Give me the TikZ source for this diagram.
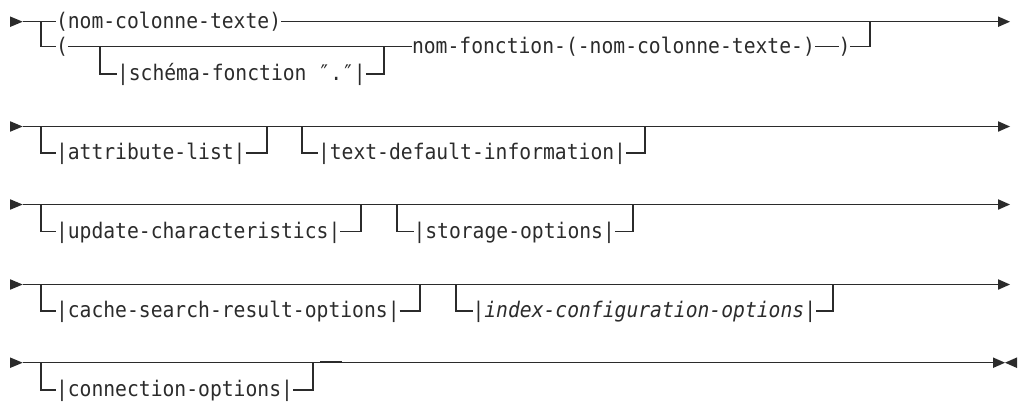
\documentclass[tikz,border=0pt]{standalone}
\usepackage{fontspec}
\newfontfamily\rrmono[FakeStretch=0.9155]{DejaVu Sans Mono}
\usetikzlibrary{calc}
\definecolor{ink}{HTML}{2B2B2B}
\tikzset{
  rail/.style={draw=ink, line width=1.1pt},
  thickrail/.style={draw=ink, line width=1.8pt},
  lbl/.style={anchor=base west, inner sep=0pt, outer sep=0pt, text=ink,
              font=\rrmono\fontsize{21.5}{26}\selectfont},
  tip/.style={fill=ink, draw=none}
}
\begin{document}
\begin{tikzpicture}[x=1pt, y=-1pt]
\useasboundingbox (0,0) rectangle (1018,405);

% ---------------- Row 1 ----------------
\coordinate (s1) at (22.7,21.7);
\coordinate (j1) at (41,21.7);
\coordinate (b1) at (41,46.7);
\coordinate (c1) at (100,46.7);
\coordinate (c2) at (100,74);
\coordinate (c3) at (384,74);
\coordinate (c4) at (384,46.7);
\coordinate (k1) at (870,46.7);
\coordinate (k2) at (870,21.7);
\coordinate (e1) at (998,21.7);

\node[lbl] (t1) at (56,28.2) {(nom-colonne-texte)};
\node[lbl] (p1) at (56,53.2) {(};
\node[lbl] (sf) at (117,80.5) {|schéma-fonction ″.″|};
\node[lbl] (nf) at (412,53.2) {nom-fonction-(-nom-colonne-texte-)};
\node[lbl] (cp) at (838.5,53.2) {)};

\fill[tip] (10,16.4) -- (s1) -- (10,27) -- cycle;
\draw[rail] (s1) -- (j1) -- (t1.west |- s1);
\draw[rail] (t1.east |- s1) -- (e1);
\fill[tip] (998,16.4) -- (1010,21.7) -- (998,27) -- cycle;
\draw[rail] (j1) -- (b1) -- (p1.west |- b1);
\draw[rail] (p1.east |- b1) -- (nf.west |- b1);
\draw[rail] (c1) -- (c2) -- (sf.west |- c2);
\draw[rail] (sf.east |- c2) -- (c3) -- (c4);
\draw[rail] (nf.east |- b1) -- (cp.west |- b1);
\draw[rail] (cp.east |- b1) -- (k1) -- (k2);

% ---------------- Row 2 ----------------
\coordinate (s2) at (22.7,126.5);
\coordinate (e2) at (998,126.5);
\coordinate (a2) at (41,126.5);
\coordinate (a2b) at (41,153);
\coordinate (a2c) at (267,153);
\coordinate (a2d) at (267,126.5);
\coordinate (d2) at (302,126.5);
\coordinate (d2b) at (302,153);
\coordinate (d2c) at (645,153);
\coordinate (d2d) at (645,126.5);

\node[lbl] (al) at (56,159.5) {|attribute-list|};
\node[lbl] (td) at (318,159.5) {|text-default-information|};

\fill[tip] (10,121.2) -- (s2) -- (10,131.8) -- cycle;
\draw[rail] (s2) -- (e2);
\fill[tip] (998,121.2) -- (1010,126.5) -- (998,131.8) -- cycle;
\draw[rail] (a2) -- (a2b) -- (al.west |- a2b);
\draw[rail] (al.east |- a2b) -- (a2c) -- (a2d);
\draw[rail] (d2) -- (d2b) -- (td.west |- d2b);
\draw[rail] (td.east |- d2b) -- (d2c) -- (d2d);

% ---------------- Row 3 ----------------
\coordinate (s3) at (22.7,204.5);
\coordinate (e3) at (998,204.5);
\coordinate (a3) at (41,204.5);
\coordinate (a3b) at (41,231.5);
\coordinate (a3c) at (361,231.5);
\coordinate (a3d) at (361,204.5);
\coordinate (d3) at (397,204.5);
\coordinate (d3b) at (397,231.5);
\coordinate (d3c) at (633,231.5);
\coordinate (d3d) at (633,204.5);

\node[lbl] (uc) at (56,238) {|update-characteristics|};
\node[lbl] (so) at (413.5,238) {|storage-options|};

\fill[tip] (10,199.2) -- (s3) -- (10,209.8) -- cycle;
\draw[rail] (s3) -- (e3);
\fill[tip] (998,199.2) -- (1010,204.5) -- (998,209.8) -- cycle;
\draw[rail] (a3) -- (a3b) -- (uc.west |- a3b);
\draw[rail] (uc.east |- a3b) -- (a3c) -- (a3d);
\draw[rail] (d3) -- (d3b) -- (so.west |- d3b);
\draw[rail] (so.east |- d3b) -- (d3c) -- (d3d);

% ---------------- Row 4 ----------------
\coordinate (s4) at (22.7,284.5);
\coordinate (e4) at (998,284.5);
\coordinate (a4) at (41,284.5);
\coordinate (a4b) at (41,311);
\coordinate (a4c) at (420,311);
\coordinate (a4d) at (420,284.5);
\coordinate (d4) at (456,284.5);
\coordinate (d4b) at (456,311);
\coordinate (d4c) at (833,311);
\coordinate (d4d) at (833,284.5);

\node[lbl] (cs) at (56,317.5) {|cache-search-result-options|};
\node[lbl] (ic) at (472.5,317.5) {|{\itshape index-configuration-options}|};

\fill[tip] (10,279.2) -- (s4) -- (10,289.8) -- cycle;
\draw[rail] (s4) -- (e4);
\fill[tip] (998,279.2) -- (1010,284.5) -- (998,289.8) -- cycle;
\draw[rail] (a4) -- (a4b) -- (cs.west |- a4b);
\draw[rail] (cs.east |- a4b) -- (a4c) -- (a4d);
\draw[rail] (d4) -- (d4b) -- (ic.west |- d4b);
\draw[rail] (ic.east |- d4b) -- (d4c) -- (d4d);

% ---------------- Row 5 ----------------
\coordinate (s5) at (22.7,362.7);
\coordinate (e5) at (993,362.7);
\coordinate (m5) at (1005,362.7);
\coordinate (a5) at (41,362.7);
\coordinate (a5b) at (41,390);
\coordinate (a5c) at (313,390);
\coordinate (a5d) at (313,362.7);
\coordinate (q1) at (320,362.2);
\coordinate (q2) at (342,362.2);

\node[lbl] (co) at (56,396.5) {|connection-options|};

\fill[tip] (10,357.4) -- (s5) -- (10,368) -- cycle;
\draw[rail] (s5) -- (e5);
\fill[tip] (993,357.4) -- (m5) -- (993,368) -- cycle;
\fill[tip] (1017,357.4) -- (m5) -- (1017,368) -- cycle;
\draw[rail] (a5) -- (a5b) -- (co.west |- a5b);
\draw[rail] (co.east |- a5b) -- (a5c) -- (a5d);
\draw[thickrail] (q1) -- (q2);
\end{tikzpicture}
\end{document}
